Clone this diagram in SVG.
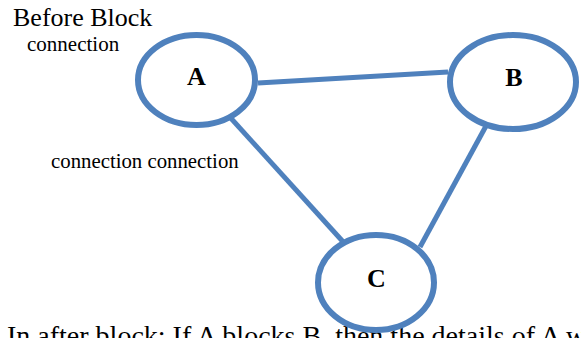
<svg xmlns="http://www.w3.org/2000/svg" width="581" height="338" viewBox="0 0 581 338">
<style>
.edge{stroke:#4F81BD;stroke-width:5;fill:none}
.node{stroke:#4F81BD;stroke-width:6;fill:#FFFFFF}
.lbl{font-family:"Liberation Serif","Times New Roman",serif;font-weight:bold;font-size:26px;fill:#000;text-anchor:middle}
.txt{font-family:"Liberation Serif","Times New Roman",serif;fill:#000}
</style>
<rect width="581" height="338" fill="#FFFFFF"/>
<text class="txt" x="13" y="26" font-size="26">Before Block</text>
<text class="txt" x="27" y="51" font-size="21">connection</text>
<text class="txt" x="51" y="168" font-size="20.8">connection connection</text>
<text class="txt" x="7" y="344.5" font-size="28">In after block: If A blocks B, then the details of A will</text>
<g id="connectors">
<line class="edge" x1="258" y1="83" x2="448" y2="72"/>
<line class="edge" x1="228" y1="115" x2="346" y2="245"/>
<line class="edge" x1="486" y1="126" x2="420" y2="247"/>
</g>
<g id="node-A">
<ellipse class="node" cx="196.5" cy="80" rx="58.5" ry="45"/>
<text class="lbl" x="196.5" y="85">A</text>
</g>
<g id="node-B">
<ellipse class="node" cx="513" cy="82" rx="63" ry="47"/>
<text class="lbl" x="514" y="86">B</text>
</g>
<g id="node-C">
<ellipse class="node" cx="376" cy="282.5" rx="58" ry="47.5"/>
<text class="lbl" x="376.5" y="287">C</text>
</g>
</svg>
